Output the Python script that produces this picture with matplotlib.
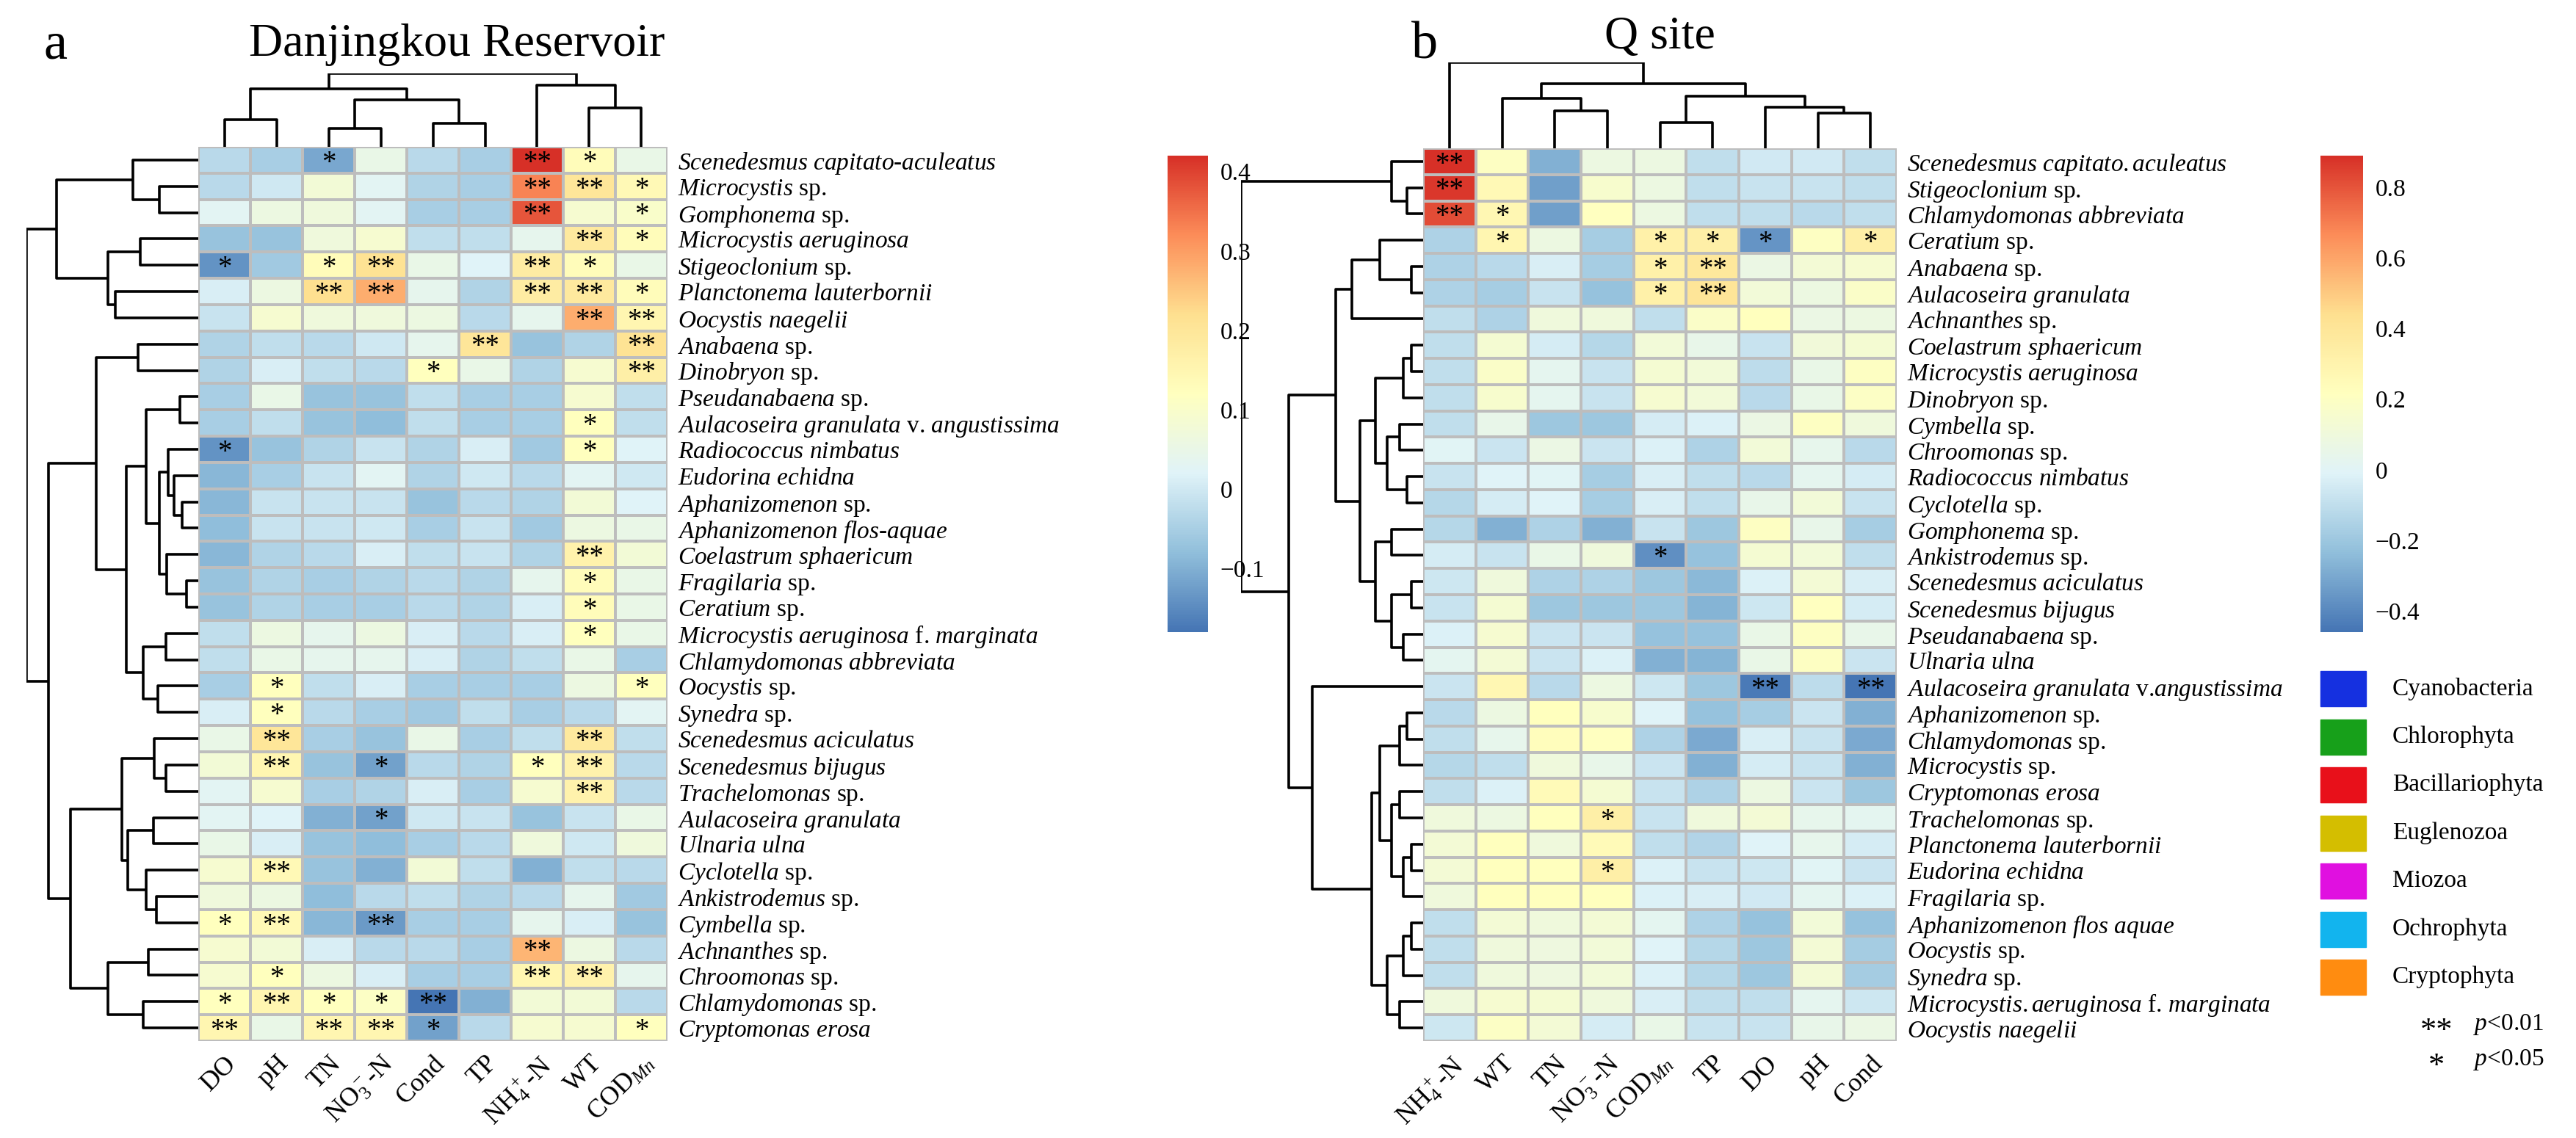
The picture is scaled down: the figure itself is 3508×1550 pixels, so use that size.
import numpy as np
import matplotlib
matplotlib.use('Agg')
import matplotlib.pyplot as plt
from matplotlib.colors import LinearSegmentedColormap
from matplotlib.patches import Rectangle

plt.rcParams['font.family'] = 'Liberation Serif'
plt.rcParams['mathtext.fontset'] = 'custom'
plt.rcParams['mathtext.rm'] = 'Liberation Serif'
plt.rcParams['mathtext.it'] = 'Liberation Serif:italic'

W, H = 3508, 1550

# ---------------- data: panel a (Danjingkou Reservoir) ----------------
cols_a = ['DO', 'pH', 'TN', 'NO$_3^-$-N', 'Cond', 'TP', 'NH$_4^+$-N', 'WT', 'COD$_{Mn}$']

species_a = ['Scenedesmus capitato-aculeatus', 'Microcystis sp.', 'Gomphonema sp.',
             'Microcystis aeruginosa', 'Stigeoclonium sp.', 'Planctonema lauterbornii',
             'Oocystis naegelii', 'Anabaena sp.', 'Dinobryon sp.', 'Pseudanabaena sp.',
             'Aulacoseira granulata v. angustissima', 'Radiococcus nimbatus',
             'Eudorina echidna', 'Aphanizomenon sp.', 'Aphanizomenon flos-aquae',
             'Coelastrum sphaericum', 'Fragilaria sp.', 'Ceratium sp.',
             'Microcystis aeruginosa f. marginata', 'Chlamydomonas abbreviata',
             'Oocystis sp.', 'Synedra sp.', 'Scenedesmus aciculatus', 'Scenedesmus bijugus',
             'Trachelomonas sp.', 'Aulacoseira granulata', 'Ulnaria ulna', 'Cyclotella sp.',
             'Ankistrodemus sp.', 'Cymbella sp.', 'Achnanthes sp.', 'Chroomonas sp.',
             'Chlamydomonas sp.', 'Cryptomonas erosa']

phylum_a = ['Chl', 'Cya', 'Bac', 'Cya', 'Chl', 'Chl', 'Chl', 'Cya', 'Och', 'Cya',
            'Bac', 'Chl', 'Chl', 'Cya', 'Cya', 'Chl', 'Bac', 'Mio', 'Cya', 'Chl',
            'Chl', 'Bac', 'Chl', 'Chl', 'Eug', 'Bac', 'Bac', 'Bac', 'Chl', 'Bac',
            'Bac', 'Cry', 'Chl', 'Cry']

r_a = [
    [-0.03, -0.05, -0.11, 0.05, -0.03, -0.05, 0.42, 0.13, 0.05],
    [-0.03, 0.00, 0.08, 0.03, -0.04, -0.05, 0.33, 0.20, 0.14],
    [0.03, 0.06, 0.07, 0.03, -0.05, -0.05, 0.38, 0.09, 0.10],
    [-0.07, -0.07, 0.07, 0.09, -0.02, -0.02, 0.04, 0.19, 0.13],
    [-0.14, -0.06, 0.13, 0.21, 0.05, 0.02, 0.18, 0.13, 0.05],
    [0.01, 0.06, 0.22, 0.28, 0.04, -0.04, 0.18, 0.19, 0.13],
    [-0.01, 0.09, 0.07, 0.07, 0.06, -0.03, 0.04, 0.28, 0.15],
    [-0.04, -0.02, -0.03, 0.00, 0.04, 0.20, -0.07, -0.04, 0.21],
    [-0.04, 0.01, -0.02, -0.03, 0.12, 0.05, -0.04, 0.09, 0.17],
    [-0.05, 0.05, -0.07, -0.07, -0.02, -0.05, -0.05, 0.09, -0.02],
    [-0.05, -0.02, -0.07, -0.08, -0.02, -0.05, -0.05, 0.12, -0.02],
    [-0.14, -0.07, -0.04, -0.01, -0.04, 0.01, -0.06, 0.12, 0.02],
    [-0.09, -0.05, -0.01, 0.03, -0.04, 0.00, -0.03, 0.03, 0.00],
    [-0.09, -0.01, -0.01, -0.01, -0.07, -0.03, -0.04, 0.08, 0.02],
    [-0.08, -0.01, -0.01, 0.00, -0.05, -0.01, -0.06, 0.06, 0.05],
    [-0.09, -0.04, -0.03, 0.01, -0.02, -0.01, -0.04, 0.16, 0.08],
    [-0.07, -0.04, -0.05, -0.04, -0.03, -0.04, 0.04, 0.13, 0.05],
    [-0.07, -0.04, -0.05, -0.05, -0.03, -0.04, 0.01, 0.13, 0.05],
    [-0.02, 0.06, 0.04, 0.06, 0.01, -0.03, 0.01, 0.12, 0.05],
    [-0.02, 0.05, 0.04, 0.04, 0.01, -0.04, -0.02, 0.05, -0.05],
    [-0.05, 0.12, -0.02, 0.01, -0.05, -0.05, -0.05, 0.06, 0.12],
    [0.01, 0.12, -0.03, -0.05, -0.06, -0.02, -0.05, -0.03, 0.03],
    [0.05, 0.20, -0.05, -0.07, 0.05, -0.05, -0.02, 0.19, -0.02],
    [0.08, 0.15, -0.07, -0.12, -0.03, -0.04, 0.12, 0.16, -0.03],
    [0.03, 0.09, -0.05, -0.04, 0.01, -0.05, 0.09, 0.16, -0.03],
    [0.03, 0.02, -0.10, -0.12, 0.00, -0.01, -0.07, -0.01, 0.05],
    [0.05, 0.01, -0.07, -0.08, -0.05, -0.03, 0.07, 0.00, 0.07],
    [0.09, 0.14, -0.07, -0.10, 0.08, -0.02, -0.10, -0.02, -0.03],
    [0.07, 0.06, -0.08, -0.03, -0.02, -0.04, -0.03, 0.04, -0.06],
    [0.12, 0.14, -0.09, -0.13, -0.05, -0.05, 0.04, 0.01, -0.07],
    [0.09, 0.08, 0.01, -0.03, -0.03, -0.05, 0.27, 0.06, -0.03],
    [0.09, 0.12, 0.06, 0.01, -0.05, -0.05, 0.15, 0.16, 0.04],
    [0.12, 0.15, 0.12, 0.11, -0.18, -0.10, 0.08, 0.08, -0.03],
    [0.15, 0.05, 0.15, 0.15, -0.12, -0.03, 0.09, 0.09, 0.12],
]

# significance: 0 none, 1 p<0.05, 2 p<0.01
sig_a = ['001000210', '000000221', '000000201', '000000021', '101200210',
         '002200221', '000000022', '000002002', '000010002', '000000000',
         '000000010', '100000010', '000000000', '000000000', '000000000',
         '000000020', '000000010', '000000010', '000000010', '000000000',
         '010000001', '010000000', '020000020', '020100120', '000000020',
         '000100000', '000000000', '020000000', '000000000', '120200000',
         '000000200', '010000220', '121120000', '202210001']

# hierarchical merges [left, right, height]; leaves 0..n-1, new clusters n, n+1, ...
rowtree_a = [[1, 2, 53], [0, 34, 89], [3, 4, 79], [5, 6, 113], [36, 37, 123],
             [35, 38, 193], [7, 8, 82], [9, 10, 25], [13, 14, 22], [12, 42, 33],
             [11, 43, 41], [16, 17, 16], [15, 45, 43], [44, 46, 53], [41, 47, 71],
             [18, 19, 44], [20, 21, 55], [49, 50, 75], [48, 51, 98], [40, 52, 139],
             [23, 24, 44], [22, 54, 60], [25, 26, 61], [28, 29, 57], [27, 57, 71],
             [56, 58, 96], [55, 59, 104], [30, 31, 68], [32, 33, 75], [61, 62, 123],
             [60, 63, 174], [53, 64, 204], [39, 65, 234]]
coltree_a = [[0, 1, 37], [2, 3, 24.5], [4, 5, 32], [10, 11, 64], [9, 12, 78.5],
             [7, 8, 53], [6, 14, 83], [13, 15, 99.4]]

# ---------------- data: panel b (Q site) ----------------
cols_b = ['NH$_4^+$-N', 'WT', 'TN', 'NO$_3^-$-N', 'COD$_{Mn}$', 'TP', 'DO', 'pH', 'Cond']

species_b = ['Scenedesmus capitato.aculeatus', 'Stigeoclonium sp.', 'Chlamydomonas abbreviata',
             'Ceratium sp.', 'Anabaena sp.', 'Aulacoseira granulata', 'Achnanthes sp.',
             'Coelastrum sphaericum', 'Microcystis aeruginosa', 'Dinobryon sp.',
             'Cymbella sp.', 'Chroomonas sp.', 'Radiococcus nimbatus', 'Cyclotella sp.',
             'Gomphonema sp.', 'Ankistrodemus sp.', 'Scenedesmus aciculatus',
             'Scenedesmus bijugus', 'Pseudanabaena sp.', 'Ulnaria ulna',
             'Aulacoseira granulata v.angustissima', 'Aphanizomenon sp.', 'Chlamydomonas sp.',
             'Microcystis sp.', 'Cryptomonas erosa', 'Trachelomonas sp.',
             'Planctonema lauterbornii', 'Eudorina echidna', 'Fragilaria sp.',
             'Aphanizomenon flos aquae', 'Oocystis sp.', 'Synedra sp.',
             'Microcystis.aeruginosa f. marginata', 'Oocystis naegelii']

phylum_b = ['Chl', 'Chl', 'Chl', 'Mio', 'Cya', 'Bac', 'Bac', 'Chl', 'Cya', 'Och',
            'Bac', 'Cry', 'Chl', 'Bac', 'Bac', 'Chl', 'Chl', 'Chl', 'Cya', 'Bac',
            'Bac', 'Cya', 'Chl', 'Cya', 'Cry', 'Eug', 'Chl', 'Chl', 'Bac', 'Cya',
            'Chl', 'Bac', 'Cya', 'Chl']

r_b = [
    [0.89, 0.20, -0.28, 0.08, 0.08, -0.10, -0.05, -0.05, -0.10],
    [0.87, 0.26, -0.33, 0.16, 0.08, -0.10, -0.08, -0.08, -0.10],
    [0.82, 0.27, -0.33, 0.21, 0.08, -0.10, -0.10, -0.12, -0.10],
    [-0.15, 0.28, 0.08, -0.17, 0.32, 0.33, -0.36, 0.20, 0.33],
    [-0.15, -0.12, -0.03, -0.17, 0.32, 0.38, 0.07, 0.13, 0.15],
    [-0.15, -0.17, -0.08, -0.22, 0.32, 0.40, 0.12, 0.08, 0.18],
    [-0.10, -0.15, 0.10, 0.10, -0.10, 0.18, 0.22, 0.07, 0.08],
    [-0.10, 0.14, -0.04, -0.13, 0.12, 0.05, -0.08, 0.11, 0.14],
    [-0.10, 0.18, 0.03, -0.08, 0.14, 0.12, -0.11, 0.06, 0.20],
    [-0.10, 0.16, 0.03, -0.08, 0.15, 0.12, -0.12, 0.06, 0.19],
    [-0.10, 0.05, -0.20, -0.20, -0.04, -0.02, 0.07, 0.20, 0.10],
    [0.00, -0.07, 0.07, -0.07, -0.02, -0.15, 0.12, 0.04, -0.12],
    [-0.08, -0.01, 0.00, -0.17, -0.03, -0.10, -0.12, 0.03, -0.04],
    [-0.13, -0.04, -0.01, -0.17, -0.03, -0.10, 0.05, 0.12, -0.08],
    [-0.13, -0.28, -0.15, -0.28, -0.08, -0.20, 0.20, 0.05, -0.17],
    [-0.04, -0.08, 0.06, 0.10, -0.38, -0.22, 0.14, 0.12, -0.10],
    [-0.06, 0.10, -0.15, -0.15, -0.20, -0.25, -0.02, 0.13, -0.03],
    [-0.08, 0.14, -0.20, -0.20, -0.20, -0.27, -0.06, 0.21, -0.04],
    [-0.02, 0.15, -0.07, -0.07, -0.22, -0.22, 0.06, 0.20, 0.05],
    [0.02, 0.13, -0.07, -0.02, -0.28, -0.27, 0.06, 0.20, -0.07],
    [-0.07, 0.27, -0.12, 0.08, -0.06, -0.20, -0.44, -0.11, -0.46],
    [-0.12, 0.08, 0.22, 0.16, -0.01, -0.22, -0.17, -0.07, -0.28],
    [-0.10, 0.04, 0.23, 0.21, -0.15, -0.30, -0.03, -0.08, -0.30],
    [-0.13, -0.10, 0.10, 0.05, -0.07, -0.28, -0.04, -0.08, -0.28],
    [-0.10, -0.02, 0.25, 0.14, -0.08, -0.15, 0.08, -0.07, -0.20],
    [0.10, 0.08, 0.22, 0.33, -0.08, 0.10, 0.13, 0.04, 0.02],
    [0.13, 0.22, 0.10, 0.25, -0.10, -0.14, -0.01, 0.04, -0.04],
    [0.13, 0.22, 0.22, 0.33, -0.02, -0.08, -0.06, 0.00, -0.07],
    [0.10, 0.22, 0.22, 0.22, -0.02, -0.03, -0.05, 0.02, -0.02],
    [-0.10, 0.13, 0.10, 0.13, 0.02, -0.15, -0.22, 0.12, -0.22],
    [-0.10, 0.10, 0.09, 0.12, -0.01, -0.13, -0.20, 0.13, -0.18],
    [-0.10, 0.10, 0.09, 0.12, -0.02, -0.13, -0.20, 0.13, -0.18],
    [0.10, 0.15, 0.14, 0.10, -0.03, -0.10, -0.10, 0.03, -0.06],
    [-0.06, 0.19, 0.13, -0.04, 0.06, -0.08, -0.08, 0.05, 0.07],
]

sig_b = ['200000000', '200000000', '210000000', '010011101', '000012000',
         '000012000', '000000000', '000000000', '000000000', '000000000',
         '000000000', '000000000', '000000000', '000000000', '000000000',
         '000010000', '000000000', '000000000', '000000000', '000000000',
         '000000202', '000000000', '000000000', '000000000', '000000000',
         '000100000', '000000000', '000100000', '000000000', '000000000',
         '000000000', '000000000', '000000000', '000000000']

rowtree_b = [[1, 2, 20], [0, 34, 40], [4, 5, 15], [3, 36, 55], [37, 6, 90],
             [7, 8, 15], [39, 9, 25], [10, 11, 30], [12, 13, 20], [41, 42, 45],
             [40, 43, 60], [14, 15, 40], [16, 17, 15], [18, 19, 25], [46, 47, 40],
             [45, 48, 60], [44, 49, 80], [38, 50, 110], [21, 22, 20], [52, 23, 30],
             [24, 25, 30], [26, 27, 15], [55, 28, 25], [54, 56, 40], [53, 57, 55],
             [29, 30, 15], [59, 31, 25], [32, 33, 30], [60, 61, 45], [58, 62, 65],
             [20, 63, 140], [51, 64, 170], [35, 65, 230]]
coltree_b = [[2, 3, 51], [1, 9, 67.5], [4, 5, 35], [7, 8, 48], [6, 12, 55.4],
             [11, 13, 70], [10, 14, 87], [0, 15, 116]]

phyla = ['Cyanobacteria', 'Chlorophyta', 'Bacillariophyta', 'Euglenozoa',
         'Miozoa', 'Ochrophyta', 'Cryptophyta']
phylum_keys = ['Cya', 'Chl', 'Bac', 'Eug', 'Mio', 'Och', 'Cry']
phylum_colors = ['#1530E0', '#17A01A', '#E8101A', '#D4BE00', '#E010E0', '#12B4EE', '#FF8C10']
pcol = dict(zip(phylum_keys, phylum_colors))

cmap = LinearSegmentedColormap.from_list(
    'rdylbu', ['#4575B4', '#91BFDB', '#E0F3F8', '#FFFFBF', '#FEE090', '#FC8D59', '#D73027'])
GRID = '#BDBDBD'

fig = plt.figure(figsize=(W / 100, H / 100), dpi=100)


def px_axes(x0, y0, x1, y1):
    return fig.add_axes([x0 / W, 1 - y1 / H, (x1 - x0) / W, (y1 - y0) / H])


def italic_label(name):
    out = []
    for w in name.split(' '):
        if w in ('sp.', 'v.', 'f.'):
            out.append(w)
        elif w.startswith('v.'):
            out.append('v.$\\mathit{' + w[2:] + '}$')
        else:
            out.append('-'.join('$\\mathit{' + p + '}$' for p in w.split('-')))
    return ' '.join(out)


def draw_tree(ax, merges, n, side):
    pos = {i: i + 0.5 for i in range(n)}
    hgt = {i: 0.0 for i in range(n)}
    for k, (a, b, h) in enumerate(merges):
        if side == 'left':
            ax.plot([hgt[a], h, h, hgt[b]], [pos[a], pos[a], pos[b], pos[b]],
                    color='black', lw=2.6, solid_capstyle='butt')
        else:
            ax.plot([pos[a], pos[a], pos[b], pos[b]], [hgt[a], h, h, hgt[b]],
                    color='black', lw=2.6, solid_capstyle='butt')
        pos[n + k] = (pos[a] + pos[b]) / 2
        hgt[n + k] = h
    top = merges[-1][2]
    if side == 'left':
        ax.set_xlim(top, 0)
        ax.set_ylim(n, 0)
    else:
        ax.set_ylim(0, top)
        ax.set_xlim(0, n)
    ax.axis('off')


def panel(vals, sig, species, phyl, cols, rowtree, coltree, heat, rowd, cold):
    data = np.array(vals)
    nr, nc = data.shape
    ax = px_axes(*heat)
    ax.pcolormesh(data, cmap=cmap, vmin=data.min(), vmax=data.max(),
                  edgecolors=GRID, linewidth=2.6)
    ax.set_xlim(0, nc)
    ax.set_ylim(nr, 0)
    for i in range(nr):
        for j in range(nc):
            s = int(sig[i][j])
            if s:
                ax.text(j + 0.5, i + 0.62, '*' * s, ha='center', va='center',
                        fontsize=28, color='black')
    ax.set_xticks(np.arange(nc) + 0.5)
    ax.set_xticklabels(cols, rotation=45, ha='right', rotation_mode='anchor', fontsize=26)
    ax.set_yticks(np.arange(nr) + 0.5)
    ax.set_yticklabels([italic_label(s) for s in species], fontsize=24)
    for t, p in zip(ax.get_yticklabels(), phyl):
        t.set_color(pcol[p])
    ax.yaxis.tick_right()
    ax.tick_params(length=0, pad=10)
    for sp in ax.spines.values():
        sp.set_visible(False)
    draw_tree(px_axes(*rowd), rowtree, nr, 'left')
    draw_tree(px_axes(*cold), coltree, nc, 'top')
    return data


def colorbar(data, box, ticks):
    cax = px_axes(*box)
    sm = plt.cm.ScalarMappable(cmap=cmap, norm=plt.Normalize(data.min(), data.max()))
    cb = fig.colorbar(sm, cax=cax)
    cb.outline.set_visible(False)
    cb.set_ticks(ticks)
    cb.set_ticklabels([('%g' % t).replace('-', '\u2212') for t in ticks])
    cax.tick_params(length=0, labelsize=24, pad=12)


da = panel(r_a, sig_a, species_a, phylum_a, cols_a, rowtree_a, coltree_a,
           (270, 200, 909, 1418), (36, 200, 270, 1418), (270, 100, 909, 200))
db = panel(r_b, sig_b, species_b, phylum_b, cols_b, rowtree_b, coltree_b,
           (1938, 202, 2583, 1418), (1690, 202, 1938, 1418), (1938, 85, 2583, 202))

colorbar(da, (1590, 212, 1645, 861), [-0.1, 0, 0.1, 0.2, 0.3, 0.4])
colorbar(db, (3160, 212, 3218, 861), [-0.4, -0.2, 0, 0.2, 0.4, 0.6, 0.8])

# overlay for titles, panel letters and legend
ov = fig.add_axes([0, 0, 1, 1])
ov.set_xlim(0, W)
ov.set_ylim(H, 0)
ov.axis('off')
ov.text(60, 79, 'a', fontsize=52, ha='left', va='baseline')
ov.text(622, 76, 'Danjingkou Reservoir', fontsize=46, ha='center', va='baseline')
ov.text(1922, 80, 'b', fontsize=52, ha='left', va='baseline')
ov.text(2260, 66, 'Q site', fontsize=46, ha='center', va='baseline')

for k, (name, c) in enumerate(zip(phyla, phylum_colors)):
    y = 938 + k * 65.5
    ov.add_patch(Rectangle((3160, y - 24), 62, 48, color=c))
    ov.text(3258, y, name, fontsize=24, va='center')
ov.text(3318, 1405, '**', fontsize=32, ha='center', va='center')
ov.text(3368, 1395, '$\\mathit{p}$<0.01', fontsize=24, va='center')
ov.text(3318, 1453, '*', fontsize=32, ha='center', va='center')
ov.text(3368, 1443, '$\\mathit{p}$<0.05', fontsize=24, va='center')

fig.savefig('out.png', dpi=100)
